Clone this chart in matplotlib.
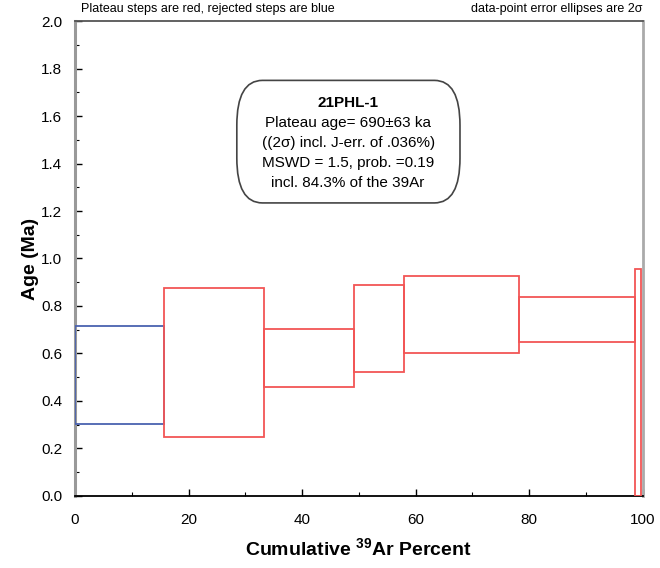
import numpy as np
import matplotlib.pyplot as plt
from matplotlib.patches import Rectangle, FancyBboxPatch

plt.rcParams['font.family'] = ['Liberation Sans', 'DejaVu Sans']
plt.rcParams['mathtext.fontset'] = 'custom'
plt.rcParams['mathtext.bf'] = 'Liberation Sans:bold'
plt.rcParams['mathtext.rm'] = 'Liberation Sans'

# step data (cumulative 39Ar %, age bounds in Ma)
cum_start = [0.0, 15.7, 33.3, 49.2, 57.9, 78.2, 98.7]
cum_end = [15.7, 33.3, 49.2, 57.9, 78.2, 98.7, 99.6]
age_lo = [0.303, 0.248, 0.459, 0.522, 0.602, 0.648, 0.0]
age_hi = [0.716, 0.876, 0.703, 0.888, 0.926, 0.838, 0.956]
in_plateau = [False, True, True, True, True, True, True]

box_lines = ['Plateau age= 690\u00b163 ka',
             '((2\u03c3) incl. J-err. of .036%)',
             'MSWD = 1.5, prob. =0.19',
             'incl. 84.3% of the 39Ar']

fig = plt.figure(figsize=(6.6, 5.68), dpi=100)
ax = fig.add_axes([0.1136, 0.1268, 0.8604, 0.8362])

for x0, x1, lo, hi, ok in zip(cum_start, cum_end, age_lo, age_hi, in_plateau):
    col = '#f25555' if ok else '#4a62b0'
    ax.add_patch(Rectangle((x0, lo), x1 - x0, hi - lo, fill=False,
                           edgecolor=col, lw=1.3, zorder=3))

ax.set_xlim(0, 100)
ax.set_ylim(0, 2.0)
ax.set_xticks(np.arange(0, 101, 20))
ax.set_xticks(np.arange(0, 101, 10), minor=True)
ax.set_yticks(np.arange(0, 2.01, 0.2))
ax.set_yticks(np.arange(0, 2.01, 0.1), minor=True)
ax.yaxis.set_major_formatter(plt.FormatStrFormatter('%.1f'))
ax.tick_params(direction='in', which='major', length=5, width=1, labelsize=11)
ax.tick_params(direction='in', which='minor', length=3, width=0.8)
ax.tick_params(axis='x', which='major', pad=12)
ax.tick_params(axis='y', which='major', pad=9)

# spines with a shaded look
ax.spines['left'].set_color('#999999')
ax.spines['left'].set_linewidth(2.2)
ax.spines['bottom'].set_color('black')
ax.spines['bottom'].set_linewidth(1.3)
ax.spines['top'].set_color('#555555')
ax.spines['top'].set_linewidth(1.3)
ax.spines['right'].set_color('#aaaaaa')
ax.spines['right'].set_linewidth(2.0)

ax.set_xlabel('Cumulative $^{\\mathbf{39}}$Ar Percent', fontsize=14,
              fontweight='bold', labelpad=8)
ax.set_ylabel('Age (Ma)', fontsize=14, fontweight='bold', labelpad=2)

ax.text(0.01, 1.012, 'Plateau steps are red, rejected steps are blue',
        transform=ax.transAxes, fontsize=9, ha='left', va='bottom')
ax.text(1.0, 1.012, 'data-point error ellipses are 2\u03c3',
        transform=ax.transAxes, fontsize=9, ha='right', va='bottom')

# info box
ax.add_patch(FancyBboxPatch((28.5, 1.234), 39.3, 0.516, transform=ax.transData,
                            boxstyle='round,pad=0,rounding_size=4.5',
                            facecolor='white', edgecolor='#444444', lw=1.2,
                            mutation_aspect=0.042, zorder=4))
ax.text(48.1, 1.685, '21PHL-1', fontsize=11, fontweight='bold', ha='center', va='top', zorder=5)
ax.text(48.1, 1.6, '\n'.join(box_lines), fontsize=11, ha='center', va='top',
        linespacing=1.55, zorder=5)

plt.savefig('out.png')
